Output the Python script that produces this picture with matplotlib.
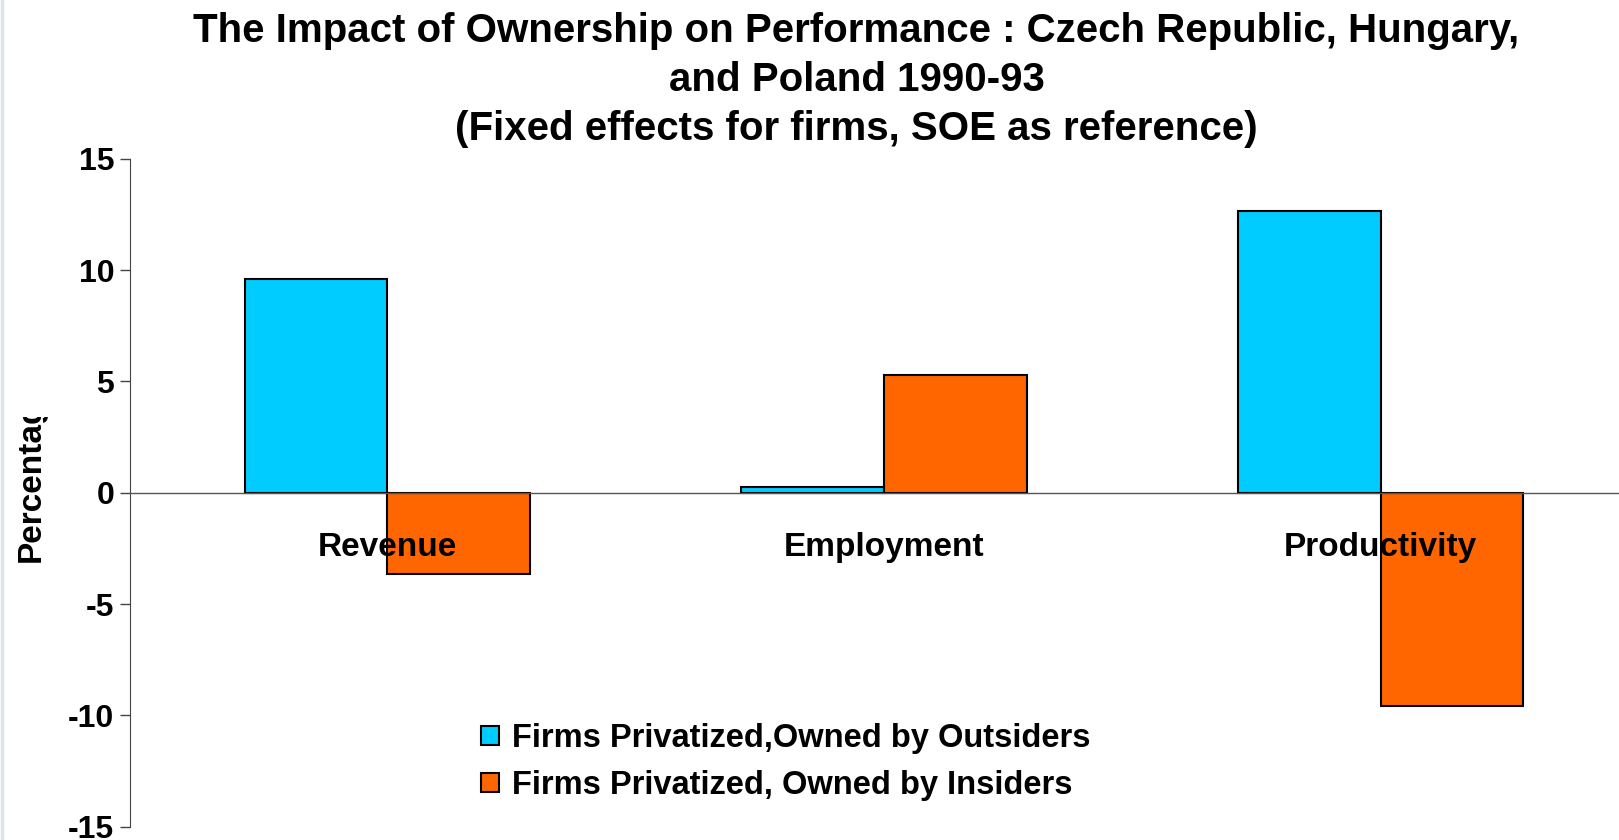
import matplotlib
matplotlib.use("Agg")
import matplotlib.pyplot as plt
import numpy as np
from matplotlib.transforms import Bbox, TransformedBbox
from matplotlib.lines import Line2D

plt.rcParams['font.family'] = ['Liberation Sans', 'DejaVu Sans']
plt.rcParams['font.weight'] = 'bold'

categories = ["Revenue", "Employment", "Productivity"]
outsiders = [9.6, 0.25, 12.65]
insiders = [-3.65, 5.3, -9.6]
series_names = ["Firms Privatized,Owned by Outsiders", "Firms Privatized, Owned by Insiders"]
yticks = [-15, -10, -5, 0, 5, 10, 15]

fig = plt.figure(figsize=(16.19, 8.40), dpi=100)
ax = fig.add_axes([0.0804, 0.016, 0.9196, 0.7948])

x = np.arange(len(categories))
w = 0.287
ax.bar(x - w / 2, outsiders, w, color="#00CCFF", edgecolor="black", linewidth=1.5, label=series_names[0])
ax.bar(x + w / 2, insiders, w, color="#FF6600", edgecolor="black", linewidth=1.5, label=series_names[1])

ax.set_xlim(-0.518, 2.48)
ax.set_ylim(-15, 15)
ax.set_yticks(yticks)
ax.set_yticklabels([str(t) for t in yticks], fontsize=23, fontweight='bold')
ax.tick_params(axis='y', direction='out', length=7.5, width=1, color='#444444', pad=4)

ax.spines['top'].set_visible(False)
ax.spines['right'].set_visible(False)
ax.spines['left'].set_color('#444444')
ax.spines['bottom'].set_position(('data', 0))
ax.spines['bottom'].set_color('#555555')
ax.spines['bottom'].set_linewidth(1)
ax.set_xticks(x)
ax.set_xticklabels(categories, fontsize=24, fontweight='bold')
ax.tick_params(axis='x', length=0, pad=28.5)

# y label, cut off at the top like in the original
ylab = fig.text(0.019, 0.3305, "Percentage", rotation=90, ha='center', va='bottom',
                fontsize=24, fontweight='bold')
ylab.set_clip_box(TransformedBbox(Bbox([[0, 0.3], [0.06, 0.5037]]), fig.transFigure))
ylab.set_clip_on(True)

fig.text(0.529, 0.986, "The Impact of Ownership on Performance : Czech Republic, Hungary,\n"
         "and Poland 1990-93\n(Fixed effects for firms, SOE as reference)",
         ha='center', va='top', fontsize=29, fontweight='bold', linespacing=1.37)

leg = ax.legend(loc='center left', bbox_to_anchor=(0.2247, 0.0966), frameon=False, fontsize=23.5,
                borderpad=0, handlelength=0.54, handleheight=0.54, handletextpad=0.41,
                labelspacing=0.5)

# thin grey strip at the left edge
fig.add_artist(Line2D([0.001, 0.001], [0, 1], transform=fig.transFigure, color='#dde3ea', linewidth=2.5))

fig.savefig("out.png", dpi=100)
